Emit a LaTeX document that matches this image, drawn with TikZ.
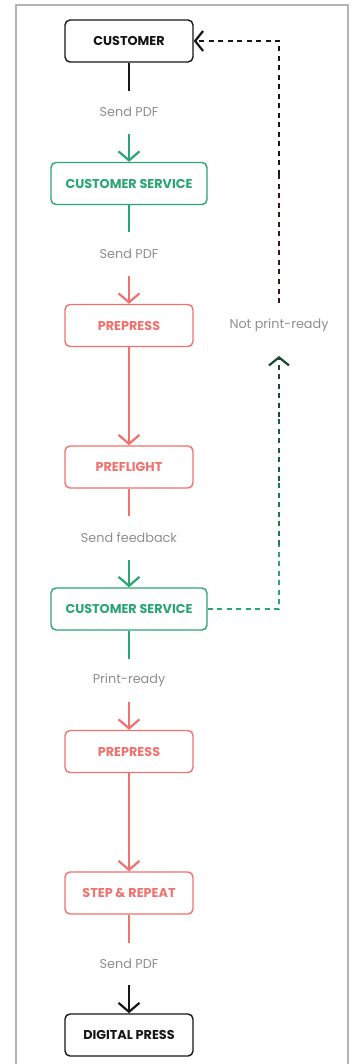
\documentclass[tikz,border=0pt]{standalone}
\usepackage{fontspec}
\setmainfont{Poppins}
\usetikzlibrary{arrows.meta}
\definecolor{ink}{HTML}{161616}
\definecolor{grn}{HTML}{2AA574}
\definecolor{salm}{HTML}{F0716D}
\definecolor{lbl}{HTML}{8E8E8E}
\definecolor{frm}{HTML}{B4B4B4}
\definecolor{dg1}{HTML}{259063}
\definecolor{dg2}{HTML}{207851}
\definecolor{dg3}{HTML}{1C6043}
\definecolor{dg4}{HTML}{1A4A34}
\definecolor{mar}{HTML}{3E1616}
\begin{document}
\begin{tikzpicture}[x=1pt,y=-1pt,
  box/.style={draw, rounded corners=5pt, line width=1.4pt, inner sep=0pt,
    minimum height=42pt, font=\fontsize{12.8}{14}\selectfont\bfseries, fill=white},
  nbox/.style={box, minimum width=128pt},
  wbox/.style={box, minimum width=156pt},
  blk/.style={draw=ink, text=ink},
  gbx/.style={draw=grn, text=grn},
  rbx/.style={draw=salm, text=salm},
  lab/.style={font=\fontsize{12.8}{14}\selectfont, text=lbl, inner sep=0pt},
  con/.style={line width=2.2pt},
  arr/.style={con, -{Straight Barb[length=9pt,width=21pt]}},
  dsh/.style={line width=2.8pt, dash pattern=on 5pt off 4.5pt},
]
\useasboundingbox (0,0) rectangle (356,1064);
\draw[frm, line width=1.3pt] (16,1064) -- (16,5) -- (348,5) -- (348,1064);

% boxes
\node[nbox, blk] (cust) at (129,41) {CUSTOMER};
\node[wbox, gbx] (cs1) at (129,183.5) {CUSTOMER SERVICE};
\node[nbox, rbx] (pp1) at (129,325.5) {PREPRESS};
\node[nbox, rbx] (pf) at (129,467) {PREFLIGHT};
\node[wbox, gbx] (cs2) at (129,609) {CUSTOMER SERVICE};
\node[nbox, rbx] (pp2) at (129,751.5) {PREPRESS};
\node[nbox, rbx] (sr) at (129,893) {STEP \& REPEAT};
\node[nbox, blk] (dp) at (129,1035) {DIGITAL PRESS};

% labels
\node[lab] (l1) at (129,112) {Send PDF};
\node[lab] (l2) at (129,254) {Send PDF};
\node[lab] (l3) at (129,538) {Send feedback};
\node[lab] (l4) at (129,680) {Print-ready};
\node[lab] (l5) at (129,964) {Send PDF};
\node[lab] (l6) at (279,325) {Not print-ready};

% coordinates
\coordinate (a1) at (129,91);
\coordinate (b1) at (129,134);
\coordinate (a2) at (129,232);
\coordinate (b2) at (129,276);
\coordinate (a3) at (129,516);
\coordinate (b3) at (129,560);
\coordinate (a4) at (129,659);
\coordinate (b4) at (129,702);
\coordinate (a5) at (129,943);
\coordinate (b5) at (129,985);

% connectors
\draw[con, ink] (cust.south) -- (a1);
\draw[arr, grn] (b1) -- (cs1.north);
\draw[con, grn] (cs1.south) -- (a2);
\draw[arr, salm] (b2) -- (pp1.north);
\draw[arr, salm] (pp1.south) -- (pf.north);
\draw[con, salm] (pf.south) -- (a3);
\draw[arr, grn] (b3) -- (cs2.north);
\draw[con, grn] (cs2.south) -- (a4);
\draw[arr, salm] (b4) -- (pp2.north);
\draw[arr, salm] (pp2.south) -- (sr.north);
\draw[con, salm] (sr.south) -- (a5);
\draw[arr, ink] (b5) -- (dp.north);

% feedback loop
\coordinate (k1) at (279,609);
\coordinate (k2) at (279,545);
\coordinate (k3) at (279,481);
\coordinate (k4) at (279,417);
\coordinate (tipA) at (279,356);
\coordinate (k5) at (279,303);
\coordinate (k6) at (279,175);
\coordinate (k7) at (279,41);
\draw[dsh, grn] (cs2.east) -- (k1) -- (k2);
\draw[dsh, dg2] (k2) -- (k3);
\draw[dsh, dg3] (k3) -- (k4);
\draw[dsh, dg4, -{Straight Barb[length=8pt,width=20pt,line width=2.2pt]}] (k4) -- (tipA);
\draw[dsh, mar] (k5) -- (k6);
\draw[dsh, ink, -{Straight Barb[length=8pt,width=20pt,line width=2.2pt]}] (k6) -- (k7) -- (cust.east);
\end{tikzpicture}
\end{document}
